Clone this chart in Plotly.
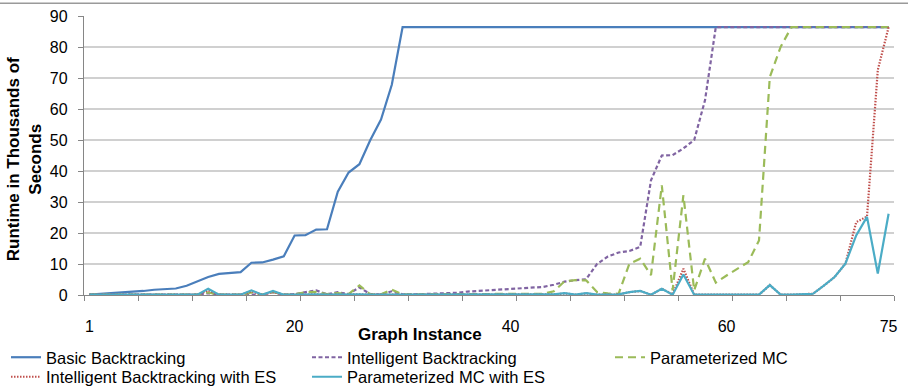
import plotly.graph_objects as go

instances = list(range(1, 76))
tick_vals = [1, 20, 40, 60, 75]
tick_text = ["1", "20", "40", "60", "75"]

basic_bt = [0.1, 0.3, 0.6, 0.8, 1.1, 1.3, 1.7, 1.9, 2.1, 3.0,
            4.3, 5.8, 6.8, 7.2, 7.4, 10.4, 10.5, 11.4, 12.5, 19.2,
            19.3, 21.1, 21.2, 33.3, 39.5, 42.2, 49.9, 56.6, 67.8] + [86.4] * 46

intelligent_bt = [0.1] * 11 + [0.6, 0.1, 0.1, 0.1, 0.3, 0.1, 0.9, 0.1, 0.3,
                  0.8, 1.5, 0.2, 0.9, 0.3, 2.5, 0.3, 0.2, 1.2, 0.2,
                  0.2, 0.3, 0.3, 0.5, 0.7, 1.1, 1.3, 1.5, 1.7, 1.9,
                  2.1, 2.3, 2.6, 3.3, 4.3, 4.8, 5.1, 10.0, 12.4, 13.7,
                  14.2, 15.5, 37.0, 45.0, 45.1, 47.3, 50.0, 62.8] + [86.4] * 17

param_mc = [0.1] * 11 + [0.8, 0.1, 0.1, 0.1, 0.8, 0.1, 1.0, 0.1, 0.2,
            0.9, 1.0, 0.3, 0.6, 0.3, 3.1, 0.2, 0.2, 1.7, 0.2,
            0.2, 0.2, 0.2, 0.2, 0.2, 0.2, 0.2, 0.2, 0.2, 0.2,
            0.3, 0.3, 0.4, 1.2, 4.4, 4.8, 4.7, 1.0, 0.5, 0.4,
            10.1, 11.7, 6.4, 35.4, 1.5, 32.2, 1.5, 11.7, 4.0, 6.3,
            8.5, 10.6, 17.6, 70.3, 80.0] + [86.4] * 10

intelligent_bt_es = [0.1] * 11 + [1.5, 0.1, 0.1, 0.1, 1.2, 0.1, 1.0, 0.1, 0.1,
                     0.2, 0.2, 0.1, 0.2, 0.1, 0.2, 0.1, 0.1, 0.2, 0.1,
                     0.1, 0.1, 0.1, 0.1, 0.1, 0.1, 0.1, 0.1, 0.1, 0.1,
                     0.1, 0.1, 0.1, 0.2, 0.5, 0.1, 0.5, 0.1, 0.1, 0.2,
                     0.9, 1.3, 0.1, 2.0, 0.2, 8.5, 0.1, 0.1, 0.1, 0.1,
                     0.1, 0.1, 0.1, 3.2, 0.1, 0.1, 0.2, 0.4, 3.0, 5.8,
                     10.1, 23.5, 25.3, 72.6, 86.4]

param_mc_es = [0.1] * 11 + [2.0, 0.1, 0.1, 0.1, 1.5, 0.1, 1.3, 0.1, 0.1,
               0.2, 0.2, 0.1, 0.2, 0.1, 0.2, 0.1, 0.1, 0.2, 0.1,
               0.1, 0.1, 0.1, 0.1, 0.1, 0.1, 0.1, 0.1, 0.1, 0.1,
               0.1, 0.1, 0.1, 0.2, 0.6, 0.1, 0.6, 0.1, 0.1, 0.2,
               0.9, 1.3, 0.1, 2.0, 0.1, 6.6, 0.1, 0.1, 0.1, 0.1,
               0.1, 0.1, 0.1, 3.2, 0.1, 0.1, 0.2, 0.4, 3.0, 5.8,
               10.1, 19.2, 25.2, 6.9, 26.2]

series = [
    ("Basic Backtracking", basic_bt, "#4A7EBB", "solid"),
    ("Intelligent Backtracking", intelligent_bt, "#8064A2", "4px,2.5px"),
    ("Parameterized MC", param_mc, "#9BBB59", "8px,5px"),
    ("Intelligent Backtracking with ES", intelligent_bt_es, "#C0504D", "1.5px,1.5px"),
    ("Parameterized MC with ES", param_mc_es, "#4BACC6", "solid"),
]

FONT = "Liberation Sans, Arial, sans-serif"
W, H = 908, 390
ml, mr, mt, mb = 84, 14.4, 15.7, 95.3
pw, ph = W - ml - mr, H - mt - mb

# legend slot (left x, top y) in container pixels, one legend per entry
legend_slots = [(6, 340), (307, 340), (610, 340), (6, 359.5), (307, 359.5)]

fig = go.Figure()
legend_layouts = {}
for k, (name, vals, color, dash) in enumerate(series):
    lname = "legend" if k == 0 else f"legend{k + 1}"
    fig.add_trace(go.Scatter(x=instances, y=vals, name=name, mode="lines",
                             legend=lname,
                             line=dict(color=color, width=2.2, dash=dash)))
    lx, ly = legend_slots[k]
    legend_layouts[lname] = dict(orientation="v", xref="container", yref="container",
                                 x=lx / W, y=1 - ly / H, xanchor="left", yanchor="top",
                                 font=dict(size=16.5, family=FONT),
                                 bgcolor="rgba(0,0,0,0)")

fig.update_layout(
    width=W, height=H,
    margin=dict(l=ml, r=mr, t=mt, b=mb, pad=0, autoexpand=False),
    paper_bgcolor="white", plot_bgcolor="white",
    font=dict(family=FONT, color="black", size=15),
    showlegend=True,
    xaxis=dict(range=[0.5, 75.5], tickmode="array", tickvals=tick_vals, ticktext=tick_text,
               automargin=False,
               ticks="outside", ticklen=5, tickcolor="rgba(0,0,0,0)",
               ticklabelstandoff=12, tickfont=dict(size=16),
               showgrid=False, zeroline=False, showline=True, linecolor="#868686", linewidth=1.3,
               minor=dict(tickmode="linear", tick0=0.5, dtick=5, ticks="outside",
                          ticklen=5, tickcolor="#868686", tickwidth=1.3, showgrid=False)),
    yaxis=dict(range=[0, 90], tickmode="linear", tick0=0, dtick=10, automargin=False,
               ticks="outside", ticklen=5, tickcolor="#868686", tickwidth=1.3,
               ticklabelstandoff=7, tickfont=dict(size=16),
               showgrid=True, gridcolor="#D0D0D0", gridwidth=1.5, zeroline=False,
               showline=True, linecolor="#868686", linewidth=1.3),
    annotations=[
        dict(text="<b>Graph Instance</b>", xref="paper", yref="paper",
             x=(420 - ml) / pw, y=(H - mb - 334) / ph, xanchor="center", yanchor="middle",
             showarrow=False, font=dict(size=17, family=FONT)),
        dict(text="<b>Runtime in Thousands of<br>Seconds</b>", xref="paper", yref="paper",
             x=(24 - ml) / pw, y=(H - mb - 159) / ph, xanchor="center", yanchor="middle",
             textangle=-90, showarrow=False, font=dict(size=17, family=FONT)),
    ],
    shapes=[dict(type="line", xref="paper", yref="paper",
                 x0=-ml / pw, x1=(W - ml) / pw, y0=(H - mb - 3) / ph, y1=(H - mb - 3) / ph,
                 line=dict(color="#9A9A9A", width=1.5))],
    **legend_layouts,
)

fig.write_html("out.html")
